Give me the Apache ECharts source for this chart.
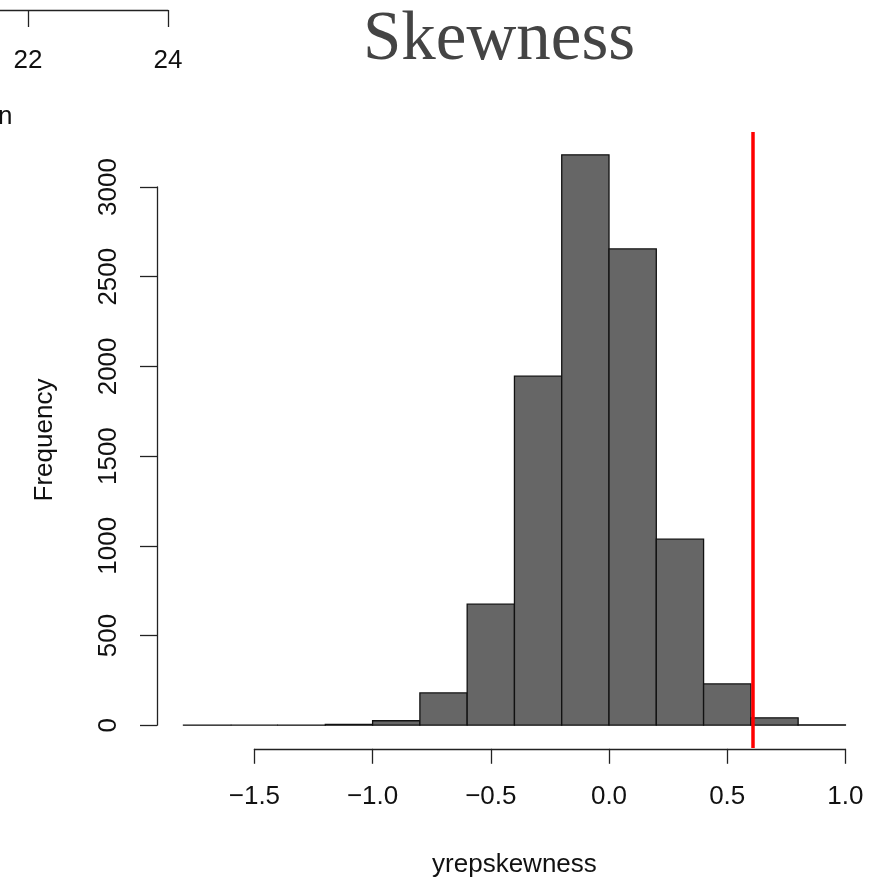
<!DOCTYPE html>
<html>
<head>
<meta charset="utf-8">
<script src="https://cdn.jsdelivr.net/npm/echarts@6/dist/echarts.min.js"></script>
<style>
  html, body { margin: 0; padding: 0; background: #fff; }
  #chart { width: 870px; height: 879px; }
</style>
</head>
<body>
<div id="chart"></div>
<script>
// histogram bins (width 0.2) and counts
var binStarts = [-1.8, -1.6, -1.4, -1.2, -1.0, -0.8, -0.6, -0.4, -0.2, 0.0, 0.2, 0.4, 0.6, 0.8];
var binWidth = 0.2;
var counts = [1, 0, 1, 5, 25, 180, 675, 1946, 3180, 2655, 1037, 230, 41, 2];
var observedSkew = 0.612;
var yTicks = [0, 3000, 500];      // min, max, step
var xTicks = [-1.5, 1.0, 0.5];
var topTicks = [20, 24, 2];       // piece of the neighbouring panel

var binData = binStarts.map(function (s, i) {
  return [s, s + binWidth, counts[i]];
});

var txt = { fontFamily: "Liberation Sans", fontSize: 26, color: "#111" };
var axisCol = "#222";
var hidden = { show: false };

var myChart = echarts.init(document.getElementById("chart"));
myChart.setOption({
  animation: false,
  backgroundColor: "#fff",
  graphic: [
    {
      type: "text", x: 499, y: 41,
      style: { text: "Skewness", font: "69px 'Liberation Serif'", fill: "#444", textAlign: "center", textVerticalAlign: "middle" }
    },
    { type: "text", left: -2, top: 104, style: { text: "n", font: "26px 'Liberation Sans'", fill: "#111" } }
  ],
  grid: [
    // plot region
    { left: 157, top: 132, width: 714.9, height: 616, outerBoundsMode: "none" },
    // x axis
    { left: 254.4, top: 700, width: 591, height: 48.8, outerBoundsMode: "none" },
    // y axis
    { left: 157, top: 187, width: 100, height: 538.2, outerBoundsMode: "none" },
    // neighbouring panel fragment
    { left: -112, top: 0, width: 280, height: 10, outerBoundsMode: "none" }
  ],
  xAxis: [
    {
      gridIndex: 0, type: "value", min: -1.912, max: 1.112,
      axisLine: hidden, axisTick: hidden, axisLabel: hidden, splitLine: hidden,
      name: "yrepskewness", nameLocation: "middle", nameGap: 104,
      nameTextStyle: txt
    },
    {
      gridIndex: 1, type: "value", min: xTicks[0], max: xTicks[1], interval: xTicks[2],
      axisLine: { lineStyle: { color: axisCol, width: 1.3 } },
      axisTick: { length: 15, lineStyle: { color: axisCol, width: 1.3 } },
      axisLabel: Object.assign({ margin: 35, formatter: function (v) { return v.toFixed(1).replace("-", "\u2212"); } }, txt),
      splitLine: hidden
    },
    {
      gridIndex: 2, type: "value", min: 0, max: 1,
      axisLine: hidden, axisTick: hidden, axisLabel: hidden, splitLine: hidden
    },
    {
      gridIndex: 3, type: "value", min: topTicks[0], max: topTicks[1], interval: topTicks[2],
      axisLine: { lineStyle: { color: axisCol, width: 1.3 } },
      axisTick: { length: 17, lineStyle: { color: axisCol, width: 1.3 } },
      axisLabel: Object.assign({ margin: 38, formatter: function (v) { return String(v); } }, txt),
      splitLine: hidden
    }
  ],
  yAxis: [
    {
      gridIndex: 0, type: "value", min: -127, max: 3307,
      axisLine: hidden, axisTick: hidden, axisLabel: hidden, splitLine: hidden,
      name: "Frequency", nameLocation: "middle", nameGap: 99, nameRotate: 90,
      nameTextStyle: txt
    },
    {
      gridIndex: 1, type: "value", min: 0, max: 1,
      axisLine: hidden, axisTick: hidden, axisLabel: hidden, splitLine: hidden
    },
    {
      gridIndex: 2, type: "value", min: yTicks[0], max: yTicks[1], interval: yTicks[2],
      axisLine: { show: true, lineStyle: { color: axisCol, width: 1.3 } },
      axisTick: { show: true, length: 17, lineStyle: { color: axisCol, width: 1.3 } },
      axisLabel: Object.assign({ rotate: 90, margin: 35, formatter: function (v) { return String(v); } }, txt),
      splitLine: hidden
    },
    {
      gridIndex: 3, type: "value",
      axisLine: hidden, axisTick: hidden, axisLabel: hidden, splitLine: hidden
    }
  ],
  series: [
    {
      type: "custom",
      xAxisIndex: 0,
      yAxisIndex: 0,
      data: binData,
      renderItem: function (params, api) {
        var p0 = api.coord([api.value(0), api.value(2)]);
        var p1 = api.coord([api.value(1), 0]);
        return {
          type: "rect",
          shape: { x: p0[0], y: p0[1], width: p1[0] - p0[0], height: p1[1] - p0[1] },
          style: { fill: "#666666", stroke: "#111", lineWidth: 1.3 }
        };
      },
      markLine: {
        silent: true,
        symbol: "none",
        label: hidden,
        lineStyle: { color: "#ff0000", width: 3.5, type: "solid" },
        data: [{ xAxis: observedSkew }]
      }
    }
  ]
});
window.addEventListener("resize", function () {
  myChart.resize();
});
</script>
</body>
</html>
